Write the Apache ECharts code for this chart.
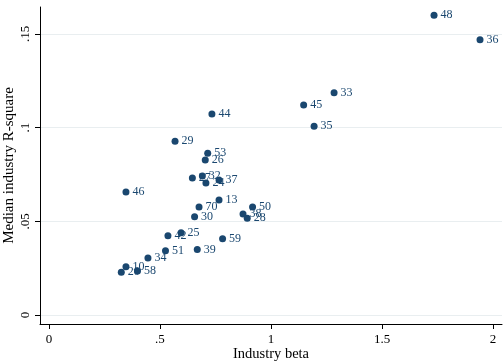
<!DOCTYPE html>
<html>
<head>
<meta charset="utf-8">
<script src="https://cdn.jsdelivr.net/npm/echarts@6/dist/echarts.min.js"></script>
<style>html,body{margin:0;padding:0;background:#fff}#c{width:504px;height:364px}</style>
</head>
<body>
<div id="c"></div>
<script>
var industries = ['48','36','33','45','44','35','29','53','26','27','32','37','24','46','13','70','50','38','30','28','25','42','59','51','39','34','10','58','20'];
var betas = [1.734,1.941,1.284,1.147,0.734,1.194,0.568,0.715,0.704,0.646,0.691,0.766,0.707,0.347,0.766,0.676,0.917,0.874,0.656,0.893,0.595,0.536,0.782,0.525,0.668,0.446,0.347,0.399,0.326];
var r2s = [0.1600,0.1469,0.1186,0.1121,0.1073,0.1007,0.0927,0.0864,0.0827,0.0731,0.0742,0.0720,0.0704,0.0656,0.0614,0.0576,0.0576,0.0539,0.0525,0.0516,0.0439,0.0423,0.0407,0.0343,0.0350,0.0304,0.0258,0.0235,0.0228];
var xTicks = [0, 0.5, 1, 1.5, 2];
var yTicks = [0, 0.05, 0.1, 0.15];

function fmt(v) {
  var s = String(Math.round(v * 1000) / 1000);
  return s.replace(/^0\./, '.');
}
var data = industries.map(function (n, i) { return [betas[i], r2s[i], n]; });
var font = 'Liberation Serif';
var chart = echarts.init(document.getElementById('c'));
chart.setOption({
  animation: false,
  backgroundColor: '#fff',
  grid: { left: 40, right: 2, top: 7, bottom: 40, containLabel: false, outerBoundsMode: 'none' },
  xAxis: {
    type: 'value', min: -0.04, max: 2.04,
    name: 'Industry beta', nameLocation: 'middle', nameGap: 23, nameMoveOverlap: false,
    nameTextStyle: { fontFamily: font, fontSize: 14.5, color: '#000' },
    axisLine: { onZero: false, lineStyle: { color: '#000', width: 1 } },
    axisTick: { show: true, length: 5, customValues: xTicks, lineStyle: { color: '#000' } },
    axisLabel: { customValues: xTicks, formatter: fmt, margin: 9, fontFamily: font, fontSize: 13, color: '#000' },
    splitLine: { show: false }
  },
  yAxis: {
    type: 'value', min: -0.0048, max: 0.1644,
    name: 'Median industry R-square', nameLocation: 'middle', nameGap: 23, nameMoveOverlap: false,
    nameTextStyle: { fontFamily: font, fontSize: 15, color: '#000' },
    axisLine: { onZero: false, lineStyle: { color: '#000', width: 1 } },
    axisTick: { show: true, length: 5, customValues: yTicks, lineStyle: { color: '#000' } },
    axisLabel: { customValues: yTicks, formatter: fmt, rotate: 90, margin: 8, fontFamily: font, fontSize: 13, color: '#000' },
    splitLine: { show: true, lineStyle: { color: '#e9eef0', width: 1 } }
  },
  series: [{
    type: 'scatter',
    data: data,
    symbolSize: 7,
    itemStyle: { color: '#1a476f', opacity: 1 },
    label: {
      show: true, position: 'right', distance: 3,
      formatter: function (p) { return p.data[2]; },
      fontFamily: font, fontSize: 12, color: '#1a476f'
    }
  }]
});
</script>
</body>
</html>
